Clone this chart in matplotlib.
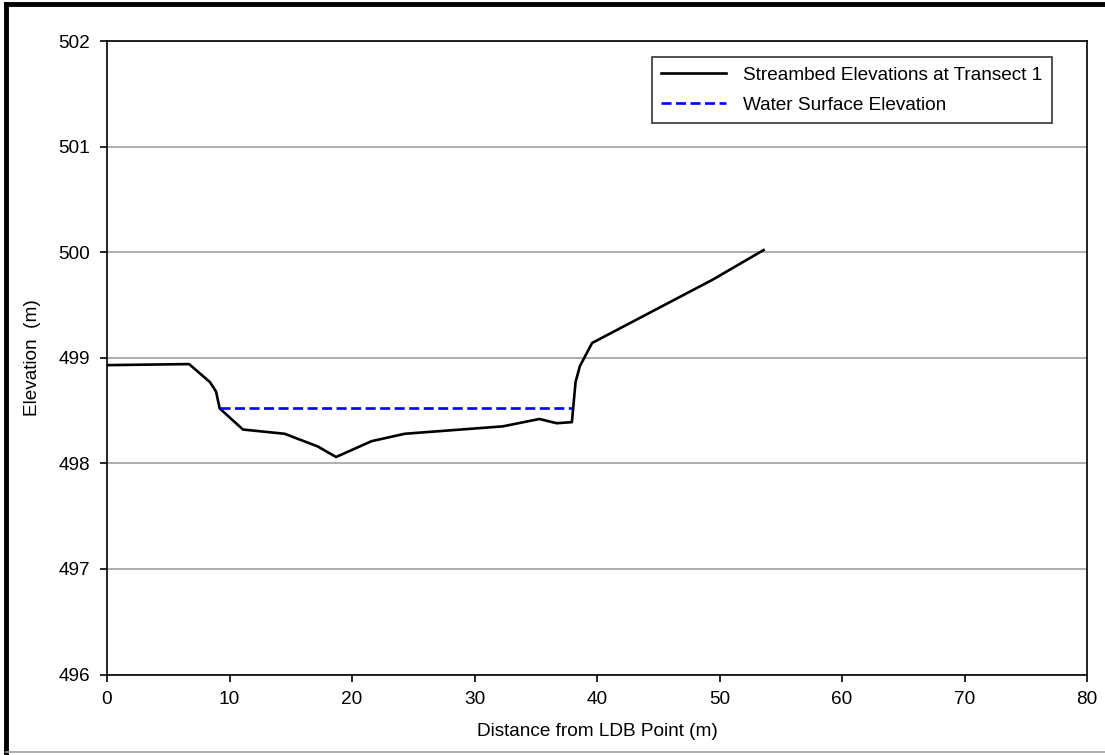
import matplotlib
matplotlib.use('Agg')
import matplotlib.pyplot as plt
from matplotlib.lines import Line2D

# Streambed profile
distance = [0.0, 6.7, 8.4, 8.9, 9.2, 11.1, 14.5, 17.2, 18.7, 21.6, 24.3, 32.3, 35.3, 36.7, 37.95, 38.25, 38.6, 39.6, 49.45, 53.6]
elevation = [498.93, 498.94, 498.77, 498.68, 498.52, 498.32, 498.28, 498.16, 498.06, 498.21, 498.28, 498.35, 498.42, 498.38, 498.39, 498.77, 498.92, 499.14, 499.74, 500.02]

# Water surface
ws_distance = [9.2, 37.95]
ws_elevation = [498.52, 498.52]

x_ticks = [0, 10, 20, 30, 40, 50, 60, 70, 80]
y_ticks = [496, 497, 498, 499, 500, 501, 502]

plt.rcParams['font.family'] = ['Liberation Sans', 'DejaVu Sans']
fs = 13.7

fig = plt.figure(figsize=(11.05, 7.55), dpi=100)
ax = fig.add_axes([107 / 1105, 1 - 674.5 / 755, (1087 - 107) / 1105, (674.5 - 41) / 755])

ax.plot(distance, elevation, color='black', linewidth=1.9, label='Streambed Elevations at Transect 1')
ax.plot(ws_distance, ws_elevation, color='#0000ff', linewidth=1.9, linestyle=(0, (3.8, 1.7)),
        label='Water Surface Elevation')

ax.set_xlim(0, 80)
ax.set_ylim(496, 502)
ax.set_xticks(x_ticks)
ax.set_yticks(y_ticks)
ax.yaxis.grid(True, color='#a0a0a0', linewidth=1.2)
ax.set_axisbelow(True)
for s in ax.spines.values():
    s.set_linewidth(1.2)
ax.tick_params(axis='both', direction='out', length=5, width=1.2, labelsize=fs, pad=7)

ax.set_xlabel('Distance from LDB Point (m)', fontsize=fs, labelpad=11)
ax.set_ylabel('Elevation  (m)', fontsize=fs, labelpad=13)

leg = ax.legend(loc='upper right', bbox_to_anchor=(1052 / 1105, 1 - 57 / 755), bbox_transform=fig.transFigure,
                fontsize=fs, frameon=True, fancybox=False, borderaxespad=0, handlelength=3.4,
                borderpad=0.5, labelspacing=0.65, handletextpad=0.9)
leg.get_frame().set_edgecolor('black')
leg.get_frame().set_linewidth(1.2)

# Outer chart border
fig.add_artist(Line2D([6 / 1105, 6 / 1105], [0.004, 1 - 4 / 755], transform=fig.transFigure, color='black', linewidth=3.5))
fig.add_artist(Line2D([6 / 1105, 1.0], [1 - 4 / 755, 1 - 4 / 755], transform=fig.transFigure, color='black', linewidth=3.5))
fig.add_artist(Line2D([6 / 1105, 1.0], [3 / 755, 3 / 755], transform=fig.transFigure, color='#a0a0a0', linewidth=1.2))

fig.savefig('out.png', dpi=100)
